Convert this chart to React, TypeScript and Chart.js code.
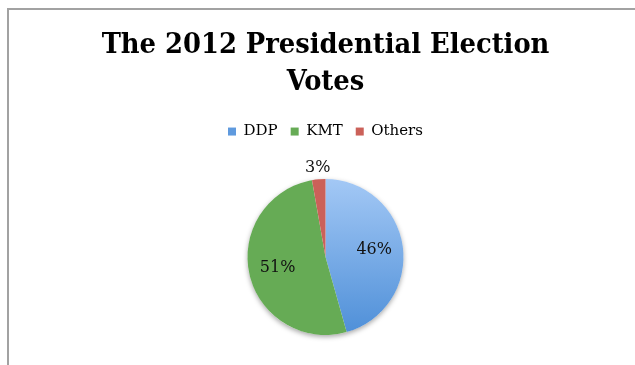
import React, { useEffect, useRef } from "react";
import { Chart, registerables } from "chart.js";

Chart.register(...registerables);

const categories = ["DDP", "KMT", "Others"];
const voteShares = [45.63, 51.6, 2.77];
const percentLabels = ["46%", "51%", "3%"];
const titleLines = ["The 2012 Presidential Election", "Votes"];

const PIE_RADIUS = 78;
const BLUE_TOP = "#a3c8f5";
const BLUE_BOTTOM = "#4e8fd8";
const GREEN = "#66ab55";
const RED = "#cb6159";
const LEGEND_COLORS = ["#5f9ade", GREEN, RED];

const shadowPlugin = {
  id: "pieShadow",
  beforeDatasetsDraw(chart: any) {
    const meta = chart.getDatasetMeta(0);
    const arc = meta.data[0];
    if (!arc) return;
    const { x, y, outerRadius } = arc.getProps(["x", "y", "outerRadius"], true);
    const ctx = chart.ctx;
    ctx.save();
    ctx.shadowColor = "rgba(0,0,0,0.35)";
    ctx.shadowBlur = 5;
    ctx.shadowOffsetY = 2;
    ctx.fillStyle = "#ffffff";
    ctx.beginPath();
    ctx.arc(x, y, outerRadius, 0, Math.PI * 2);
    ctx.fill();
    ctx.restore();
  },
};

const labelPlugin = {
  id: "pieLabels",
  afterDatasetsDraw(chart: any) {
    const meta = chart.getDatasetMeta(0);
    const ctx = chart.ctx;
    ctx.save();
    ctx.font = '16px "DejaVu Serif"';
    ctx.fillStyle = "#111111";
    ctx.textAlign = "center";
    ctx.textBaseline = "middle";
    meta.data.forEach((arc: any, i: number) => {
      const p = arc.getProps(["x", "y", "startAngle", "endAngle", "outerRadius", "circumference"], true);
      const mid = (p.startAngle + p.endAngle) / 2;
      const small = p.circumference / (Math.PI * 2) < 0.05;
      const r = small ? p.outerRadius + 12 : p.outerRadius * 0.63;
      ctx.fillText(percentLabels[i], p.x + Math.cos(mid) * r, p.y + Math.sin(mid) * r);
    });
    ctx.restore();
  },
};

export default function App() {
  const canvasRef = useRef<HTMLCanvasElement | null>(null);

  useEffect(() => {
    if (!canvasRef.current) return;
    const chart = new Chart(canvasRef.current, {
      type: "pie",
      data: {
        labels: categories,
        datasets: [
          {
            data: voteShares,
            borderWidth: 0,
            radius: PIE_RADIUS,
            backgroundColor: (context: any) => {
              const i = context.dataIndex;
              if (i === 0) {
                const area = context.chart.chartArea;
                if (!area) return LEGEND_COLORS[0];
                const cy = (area.top + area.bottom) / 2;
                const g = context.chart.ctx.createLinearGradient(0, cy - PIE_RADIUS, 0, cy + PIE_RADIUS);
                g.addColorStop(0, BLUE_TOP);
                g.addColorStop(1, BLUE_BOTTOM);
                return g;
              }
              return i === 1 ? GREEN : RED;
            },
          } as any,
        ],
      },
      options: {
        responsive: false,
        animation: false,
        events: [],
        layout: { padding: { left: 16, right: 0, top: 0, bottom: 0 } },
        plugins: {
          tooltip: { enabled: false },
          title: {
            display: true,
            text: titleLines,
            color: "#000000",
            font: { family: '"DejaVu Serif Condensed", "DejaVu Serif"', size: 28.7, weight: "bold", lineHeight: 1.29 },
            padding: { top: 27, bottom: 10 },
          },
          legend: {
            display: true,
            position: "top",
            labels: {
              color: "#111111",
              font: { family: '"DejaVu Serif"', size: 15 },
              boxWidth: 8,
              boxHeight: 8,
              padding: 13,
              generateLabels: (c: any) =>
                categories.map((text, i) => ({
                  text,
                  fillStyle: LEGEND_COLORS[i],
                  strokeStyle: LEGEND_COLORS[i],
                  lineWidth: 0,
                  hidden: false,
                  index: i,
                })),
            },
          },
        },
      },
      plugins: [shadowPlugin, labelPlugin],
    } as any);
    return () => chart.destroy();
  }, []);

  return (
    <div style={{ position: "absolute", left: 0, top: 0, width: 635, height: 365, background: "#ffffff", overflow: "hidden" }}>
      <div
        style={{
          position: "absolute",
          left: 7,
          top: 8,
          right: 0,
          bottom: 0,
          borderTop: "2px solid #a2a2a2",
          borderLeft: "2px solid #a2a2a2",
        }}
      />
      <canvas ref={canvasRef} width={635} height={365} style={{ position: "absolute", left: 0, top: 0, display: "block" }} />
    </div>
  );
}
